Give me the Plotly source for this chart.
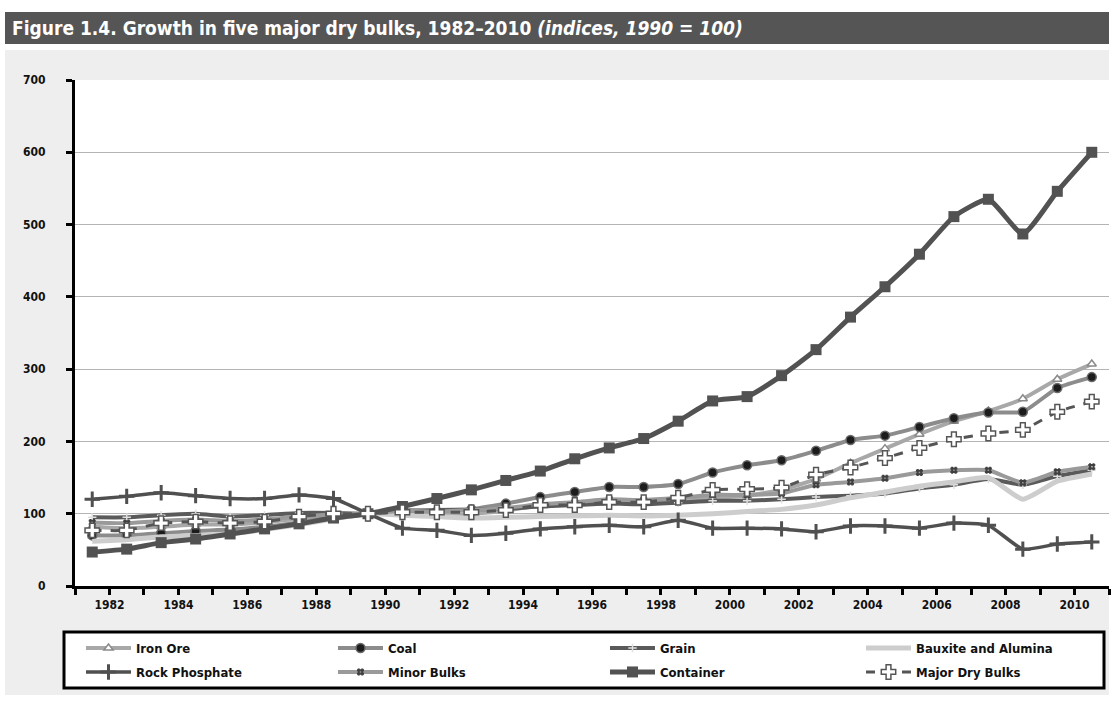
import plotly.graph_objects as go

# Years plotted (index base 1990 = 100)
years = list(range(1982, 2012))

iron_ore = [82, 80, 82, 85, 85, 88, 93, 98, 100, 100, 98, 100, 104, 112, 115, 118, 117, 118,
            122, 125, 133, 148, 170, 190, 210, 228, 242, 259, 286, 307]
coal = [70, 70, 73, 76, 78, 82, 88, 95, 100, 105, 103, 106, 114, 123, 130, 137, 137, 141,
        157, 167, 174, 187, 202, 208, 220, 232, 240, 241, 274, 289]
grain = [95, 95, 98, 100, 96, 98, 101, 101, 100, 104, 105, 106, 107, 110, 112, 114, 113, 115,
         118, 118, 120, 123, 125, 128, 135, 140, 148, 140, 152, 160]
bauxite = [62, 64, 68, 70, 72, 78, 85, 93, 100, 98, 96, 94, 95, 96, 97, 98, 97, 98,
           100, 103, 106, 112, 122, 130, 138, 144, 150, 120, 145, 155]
rock_phosphate = [120, 124, 129, 125, 121, 121, 126, 121, 100, 80, 77, 70, 73, 79, 82, 84, 82, 91,
                  80, 80, 79, 75, 83, 83, 80, 87, 84, 51, 58, 61]
minor_bulks = [88, 87, 90, 92, 90, 92, 96, 99, 100, 104, 103, 105, 108, 113, 116, 120, 119, 122,
               126, 126, 128, 140, 144, 149, 157, 160, 160, 143, 158, 165]
container = [47, 51, 60, 65, 72, 79, 86, 94, 100, 110, 121, 133, 146, 159, 176, 191, 204, 228,
             256, 262, 291, 327, 372, 414, 459, 511, 535, 487, 546, 600]
major_dry_bulks = [77, 77, 87, 89, 87, 89, 96, 100, 100, 102, 102, 102, 105, 112, 112, 116, 116, 122,
                   133, 134, 136, 154, 164, 177, 191, 203, 211, 216, 241, 255]

series_names = ["Iron Ore", "Coal", "Grain", "Bauxite and Alumina",
                "Rock Phosphate", "Minor Bulks", "Container", "Major Dry Bulks"]

title_main = "Figure 1.4. Growth in five major dry bulks, 1982–2010 "
title_sub = "(indices, 1990 = 100)"

FONT = "Liberation Sans Narrow, DejaVu Sans Condensed, Arial Narrow, sans-serif"

W, H = 1114, 704
L, R, T, B = 75, 5, 80, 118
PW, PH = W - L - R, H - T - B


def px(x):
    return (x - L) / PW


def py(y):
    return (H - B - y) / PH


styles = [
    dict(line=dict(color="#a8a8a8", width=4),
         marker=dict(symbol="triangle-up", size=8, color="white", line=dict(color="#8a8a8a", width=1.5))),
    dict(line=dict(color="#8c8c8c", width=4),
         marker=dict(symbol="circle", size=9, color="#1c1c1c", line=dict(color="#6a6a6a", width=1.5))),
    dict(line=dict(color="#5a5a5a", width=4),
         marker=dict(symbol="cross-thin", size=6, color="#e0e0e0", line=dict(color="#e0e0e0", width=1.5))),
    dict(line=dict(color="#cdcdcd", width=5), marker=None),
    dict(line=dict(color="#505050", width=3.5),
         marker=dict(symbol="cross-thin", size=11, color="#505050", line=dict(color="#505050", width=3))),
    dict(line=dict(color="#9a9a9a", width=4),
         marker=dict(symbol="hash", size=7, color="#404040", line=dict(color="#404040", width=2))),
    dict(line=dict(color="#525252", width=5),
         marker=dict(symbol="square", size=11, color="#525252")),
    dict(line=dict(color="#555555", width=3, dash="dash"),
         marker=dict(symbol="cross", size=12, color="white", line=dict(color="#555555", width=1.5))),
]

data = [iron_ore, coal, grain, bauxite, rock_phosphate, minor_bulks, container, major_dry_bulks]

# legend key grid: 4 columns x 2 rows
col_left = [81, 333, 605, 861]
row_mid = [648, 672]

fig = go.Figure()
legend_layouts = {}
for i, (name, vals, st) in enumerate(zip(series_names, data, styles)):
    line = dict(st["line"], shape="spline", smoothing=0.5)
    legend_id = "legend" if i == 0 else f"legend{i + 1}"
    kw = dict(x=years, y=vals, name=name, line=line, legend=legend_id)
    if st["marker"] is None:
        fig.add_trace(go.Scatter(mode="lines", **kw))
    else:
        fig.add_trace(go.Scatter(mode="lines+markers", marker=st["marker"], **kw))
    legend_layouts[legend_id] = dict(
        orientation="h", xref="paper", yref="paper",
        x=px(col_left[i % 4]), y=py(row_mid[i // 4]),
        xanchor="left", yanchor="middle", itemwidth=45,
        bgcolor="rgba(0,0,0,0)", borderwidth=0,
        font=dict(family=FONT, size=13, color="#111111", weight="bold"))

# category boundaries carry the ticks; even years are labelled
tick_pos = [years[0] - 0.5] + [y + 0.5 for y in years]
tick_txt = [""] + [str(y) if y % 2 == 0 and y <= 2010 else "" for y in years]

shapes = [
    # title band
    dict(type="rect", xref="paper", yref="paper", x0=px(5), x1=px(1109), y0=py(44), y1=py(12),
         fillcolor="#555555", line=dict(width=0), layer="below"),
    # grey panel behind chart
    dict(type="rect", xref="paper", yref="paper", x0=px(5), x1=px(1109), y0=py(695), y1=py(50),
         fillcolor="#eeeeee", line=dict(width=0), layer="below"),
    # white plotting area
    dict(type="rect", xref="paper", yref="paper", x0=0, x1=1, y0=0, y1=1,
         fillcolor="white", line=dict(width=0), layer="below"),
    # legend frame
    dict(type="rect", xref="paper", yref="paper", x0=px(64), x1=px(1104), y0=py(688), y1=py(632),
         fillcolor="white", line=dict(color="black", width=3), layer="below"),
]

fig.update_layout(
    width=W, height=H,
    margin=dict(l=L, r=R, t=T, b=B),
    paper_bgcolor="white",
    plot_bgcolor="white",
    shapes=shapes,
    title=dict(text=f"<b>{title_main}<i>{title_sub}</i></b>",
               xref="container", yref="container", x=12 / W, y=1 - 28 / H,
               xanchor="left", yanchor="middle",
               font=dict(family=FONT, size=19, color="white")),
    showlegend=True,
    xaxis=dict(range=[years[0] - 0.5, years[-1] + 0.5], tickmode="array",
               tickvals=tick_pos, ticktext=tick_txt,
               showline=True, linecolor="black", linewidth=3,
               ticks="outside", ticklen=6, tickwidth=3, tickcolor="black",
               showgrid=False, zeroline=False,
               tickfont=dict(family=FONT, size=12, color="#111111", weight="bold")),
    yaxis=dict(range=[0, 700], dtick=100, tick0=0,
               showline=True, linecolor="black", linewidth=3,
               ticks="outside", ticklen=6, tickwidth=3, tickcolor="black",
               showgrid=True, gridcolor="#b4b4b4", gridwidth=1, zeroline=False,
               ticklabelstandoff=18,
               tickfont=dict(family=FONT, size=12, color="#111111", weight="bold")),
)
fig.update_layout(**legend_layouts)

fig.write_html("out.html")
